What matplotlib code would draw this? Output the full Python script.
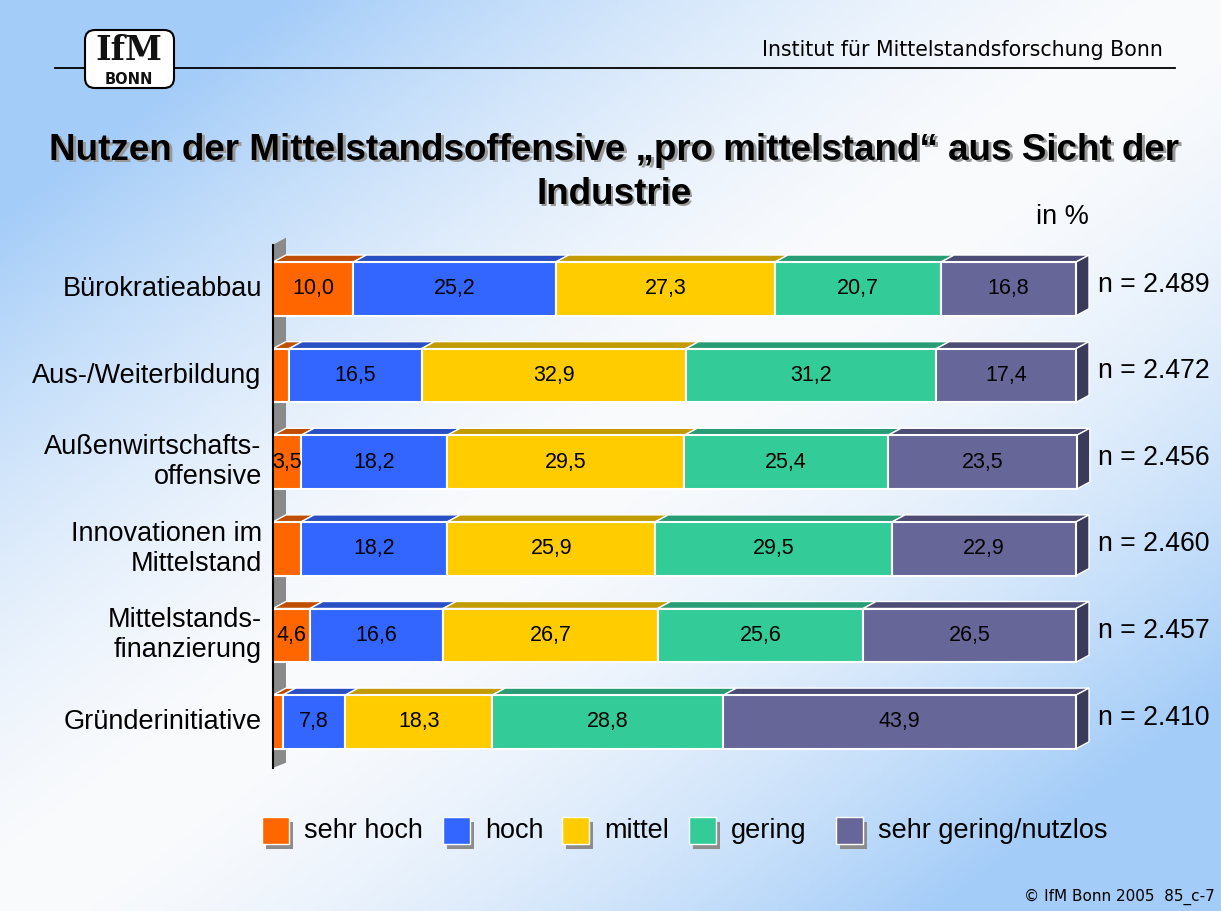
import numpy as np
import matplotlib.pyplot as plt
from matplotlib.patches import Polygon, Rectangle, FancyBboxPatch

# data
categories = ["Bürokratieabbau", "Aus-/Weiterbildung", "Außenwirtschafts-\noffensive",
              "Innovationen im\nMittelstand", "Mittelstands-\nfinanzierung", "Gründerinitiative"]
series = ["sehr hoch", "hoch", "mittel", "gering", "sehr gering/nutzlos"]
sehr_hoch = [10.0, 2.0, 3.5, 3.5, 4.6, 1.2]
hoch = [25.2, 16.5, 18.2, 18.2, 16.6, 7.8]
mittel = [27.3, 32.9, 29.5, 25.9, 26.7, 18.3]
gering = [20.7, 31.2, 25.4, 29.5, 25.6, 28.8]
sehr_gering = [16.8, 17.4, 23.5, 22.9, 26.5, 43.9]
show_first = [True, False, True, False, True, False]
n_labels = ["n = 2.489", "n = 2.472", "n = 2.456", "n = 2.460", "n = 2.457", "n = 2.410"]

front = ["#FF6600", "#3366FF", "#FFCC00", "#33CC99", "#666699"]
top = ["#C04E00", "#284FC4", "#C29B00", "#279C75", "#4C4C74"]
side = "#3A3A5A"

W, H = 1221, 911
fig = plt.figure(figsize=(W / 100, H / 100), dpi=100)

# background gradient: blue in top-left / bottom-right, white along anti-diagonal
bg = fig.add_axes([0, 0, 1, 1])
yy, xx = np.mgrid[0:H:4, 0:W:4]
u = (xx / W - 0.5) + (yy / H - 0.5)
t = np.clip(np.abs(u) * 1.3, 0, 1) ** 1.6
blue = np.array([163, 204, 248]) / 255
white = np.array([250, 251, 253]) / 255
img = white[None, None, :] * (1 - t[..., None]) + blue[None, None, :] * t[..., None]
bg.imshow(img, extent=[0, W, H, 0], aspect="auto")
bg.set_xlim(0, W)
bg.set_ylim(H, 0)
bg.axis("off")

# header
bg.plot([55, 1175], [68, 68], color="black", lw=1.3)
bg.add_patch(FancyBboxPatch((85, 30), 89, 58, boxstyle="round,pad=0,rounding_size=10",
                            fc="white", ec="black", lw=1.5, zorder=3))
bg.text(129, 50, "IfM", fontsize=24, family="DejaVu Serif", fontweight="bold",
        ha="center", va="center", color="#111111", zorder=4)
bg.text(129, 79, "BONN", fontsize=10.5, family="DejaVu Sans", fontweight="bold",
        ha="center", va="center", color="#111111", zorder=4)
bg.text(1163, 50, "Institut für Mittelstandsforschung Bonn", fontsize=14.8,
        family="DejaVu Sans", ha="right", va="center")

title_lines = ["Nutzen der Mittelstandsoffensive „pro mittelstand“ aus Sicht der", "Industrie"]
for line, ty in zip(title_lines, [150, 194]):
    for off, col in [(2.5, "#999999"), (0, "black")]:
        bg.text(614 + off, ty + off, line, fontsize=26.5, fontweight="bold",
                family="Liberation Sans", ha="center", va="center", color=col)
bg.text(1062, 217, "in %", fontsize=19.5, family="Liberation Sans", ha="center", va="center")
bg.text(1215, 897, "© IfM Bonn 2005  85_c-7", fontsize=11, family="DejaVu Sans",
        ha="right", va="center")

# legend
leg_x = [262, 443, 562, 689, 836]
for c, x0, name in zip(front, leg_x, series):
    bg.add_patch(Rectangle((x0 + 4, 822), 27, 27, fc="#8c8c8c", ec="none"))
    bg.add_patch(Rectangle((x0, 817), 27, 27, fc=c, ec="white", lw=1))
    bg.text(x0 + 42, 831, name, fontsize=19.5, family="Liberation Sans", va="center")

# bars
ax = fig.add_axes([273 / W, 1 - 780 / H, 803 / W, 550 / H])
ax.set_xlim(0, 100)
ax.set_ylim(5.67, -0.68)
ax.axis("off")

dx, dy, hh = 1.62, 0.081, 0.31
ax.add_patch(Polygon([(0, -0.51), (dx, -0.51 - dy), (dx, 5.47), (0, 5.53)],
                     closed=True, fc="#8a8a8a", ec="none", clip_on=False))
ax.plot([0, 0], [-0.51, 5.53], color="black", lw=1.5, clip_on=False, zorder=5)

values = np.array([sehr_hoch, hoch, mittel, gering, sehr_gering]).T
for i, row in enumerate(values):
    left = 0
    for j, v in enumerate(row):
        yt = i - hh
        ax.add_patch(Polygon([(left, yt), (left + dx, yt - dy), (left + v + dx, yt - dy), (left + v, yt)],
                             closed=True, fc=top[j], ec="white", lw=1, clip_on=False, zorder=2))
        ax.add_patch(Rectangle((left, yt), v, 2 * hh, fc=front[j], ec="white", lw=1.5,
                               clip_on=False, zorder=3))
        if j > 0 or show_first[i]:
            lab = f"{v:.1f}".replace(".", ",")
            ax.text(left + v / 2, i, lab, fontsize=15.5, family="Liberation Sans",
                    ha="center", va="center", zorder=4)
        left += v
    ax.add_patch(Polygon([(left, i - hh), (left + dx, i - hh - dy), (left + dx, i + hh - dy), (left, i + hh)],
                         closed=True, fc=side, ec="white", lw=1, clip_on=False, zorder=2))
    ax.text(102.7, i - 0.05, n_labels[i], fontsize=19.2, family="Liberation Sans",
            ha="left", va="center")
    ax.text(-1.4, i, categories[i], fontsize=19.5, family="Liberation Sans",
            ha="right", va="center", linespacing=1.2)

fig.savefig("out.png", dpi=100)
